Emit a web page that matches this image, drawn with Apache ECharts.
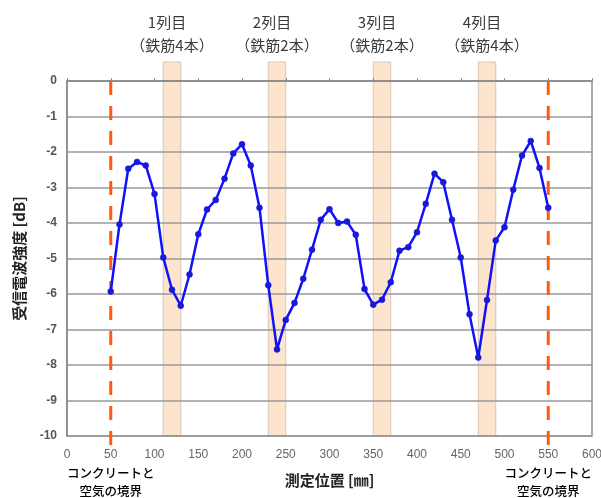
<!DOCTYPE html>
<html>
<head>
<meta charset="utf-8">
<script src="https://cdn.jsdelivr.net/npm/echarts@6/dist/echarts.min.js"></script>
<style>
  html, body { margin: 0; padding: 0; background: #fff; }
  #chart { width: 601px; height: 498px; }
</style>
</head>
<body>
<div id="chart"></div>
<script>
// Measurement positions [mm] and received signal strength [dB]
const positions = [50, 60, 70, 80, 90, 100, 110, 120, 130, 140, 150, 160, 170, 180, 190,
  200, 210, 220, 230, 240, 250, 260, 270, 280, 290, 300, 310, 320, 330, 340, 350,
  360, 370, 380, 390, 400, 410, 420, 430, 440, 450, 460, 470, 480, 490, 500, 510,
  520, 530, 540, 550];
const strength = [-5.93, -4.04, -2.47, -2.28, -2.38, -3.18, -4.97, -5.88, -6.33, -5.45,
  -4.32, -3.62, -3.35, -2.75, -2.04, -1.78, -2.38, -3.57, -5.75, -7.56, -6.73, -6.25,
  -5.57, -4.75, -3.91, -3.61, -4.00, -3.96, -4.33, -5.86, -6.30, -6.16, -5.67, -4.78,
  -4.68, -4.26, -3.46, -2.61, -2.85, -3.91, -4.97, -6.57, -7.79, -6.17, -4.49, -4.12,
  -3.06, -2.10, -1.69, -2.45, -3.57];

// Rebar rows: start / end position [mm] and their captions
const rebarStart = [110, 230, 350, 470];
const rebarEnd = [130, 250, 370, 490];
const rebarRow = ['1列目', '2列目', '3列目', '4列目'];
const rebarCount = ['（鉄筋4本）', '（鉄筋2本）', '（鉄筋2本）', '（鉄筋4本）'];

// Concrete / air boundaries [mm]
const boundaries = [50, 550];
const boundaryText = ['コンクリートと', '空気の境界'];

const xTicks = { min: 0, max: 600, interval: 50 };
const yTicks = { min: -10, max: 0, interval: 1 };

const cjk = '"Noto Sans CJK JP", "Noto Sans", sans-serif';
const latin = '"Liberation Sans", Arial, sans-serif';
const chart = echarts.init(document.getElementById('chart'), null, { renderer: 'canvas' });

const bandData = rebarStart.map((s, i) => [s, rebarEnd[i], yTicks.max]);
const lineData = positions.map((p, i) => [p, strength[i]]);
const boundaryData = boundaries.map(b => [b, yTicks.max]);

chart.setOption({
  animation: false,
  grid: {
    left: 67, right: 9, top: 81, bottom: 62,
    containLabel: false,
    outerBoundsMode: 'none',
    show: true, borderColor: '#8f8f8f', borderWidth: 1.5
  },
  xAxis: {
    type: 'value',
    min: xTicks.min, max: xTicks.max, interval: xTicks.interval,
    name: '測定位置 [㎜]',
    nameLocation: 'middle',
    nameGap: 37,
    nameTextStyle: { fontFamily: cjk, fontSize: 15, fontWeight: 'bold', color: '#222' },
    axisLine: { show: true, lineStyle: { color: '#8a8a8a', width: 1.5 } },
    axisTick: { show: true, inside: true, length: 3, lineStyle: { color: '#8a8a8a' } },
    splitLine: { show: false },
    axisLabel: {
      margin: 13,
      showMinLabel: true,
      showMaxLabel: true,
      color: '#666',
      fontFamily: latin,
      fontSize: 12
    }
  },
  yAxis: {
    type: 'value',
    min: yTicks.min, max: yTicks.max, interval: yTicks.interval,
    name: '受信電波強度 [dB]',
    nameLocation: 'middle',
    nameGap: 40,
    nameRotate: 90,
    nameTextStyle: { fontFamily: cjk, fontSize: 15, fontWeight: 'bold', color: '#222' },
    axisLine: { show: true, lineStyle: { color: '#8a8a8a', width: 1.5 } },
    axisTick: { show: false },
    splitLine: { show: true, lineStyle: { color: '#999999', width: 1.6 } },
    axisLabel: {
      margin: 10,
      showMinLabel: true,
      showMaxLabel: true,
      color: '#555',
      fontWeight: 'bold',
      fontFamily: latin,
      fontSize: 12
    }
  },
  series: [
    {
      // rebar row bands with their captions
      type: 'custom',
      z: -1,
      clip: false,
      silent: true,
      encode: { x: [0, 1], y: 2 },
      data: bandData,
      renderItem: (params, api) => {
        const i = params.dataIndex;
        const tl = api.coord([api.value(0), yTicks.max]);
        const br = api.coord([api.value(1), yTicks.min]);
        const top = tl[1] - 19;
        const cx = (tl[0] + br[0]) / 2;
        return {
          type: 'group',
          children: [
            {
              type: 'rect',
              shape: { x: tl[0], y: top, width: br[0] - tl[0], height: br[1] - top },
              style: { fill: '#fde4cd', stroke: '#d6c5b8', lineWidth: 1 }
            },
            {
              type: 'text',
              style: {
                x: cx - 5, y: top - 40, text: rebarRow[i],
                align: 'center', verticalAlign: 'middle',
                font: '15px ' + cjk, fill: '#3a3a3a'
              }
            },
            {
              type: 'text',
              style: {
                x: cx, y: top - 17, text: rebarCount[i],
                align: 'center', verticalAlign: 'middle',
                font: '15px ' + cjk, fill: '#3a3a3a'
              }
            }
          ]
        };
      }
    },
    {
      // concrete / air boundary markers with captions under the axis
      type: 'custom',
      z: 1,
      clip: false,
      silent: true,
      encode: { x: 0, y: 1 },
      data: boundaryData,
      renderItem: (params, api) => {
        const t = api.coord([api.value(0), yTicks.max]);
        const b = api.coord([api.value(0), yTicks.min]);
        return {
          type: 'group',
          children: [
            {
              type: 'line',
              shape: { x1: t[0], y1: t[1], x2: b[0], y2: b[1] + 19 },
              style: { stroke: '#ff5a0f', lineWidth: 3, lineDash: [14, 11] }
            },
            {
              type: 'text',
              style: {
                x: b[0], y: b[1] + 37, text: boundaryText[0],
                align: 'center', verticalAlign: 'middle',
                font: '500 12.5px ' + cjk, fill: '#000'
              }
            },
            {
              type: 'text',
              style: {
                x: b[0], y: b[1] + 55, text: boundaryText[1],
                align: 'center', verticalAlign: 'middle',
                font: '500 12.5px ' + cjk, fill: '#000'
              }
            }
          ]
        };
      }
    },
    {
      type: 'line',
      z: 3,
      data: lineData,
      symbol: 'circle',
      symbolSize: 6,
      lineStyle: { color: '#1010ff', width: 2.5 },
      itemStyle: { color: '#1a1ad0', borderColor: '#1010ff', borderWidth: 0.5 }
    }
  ]
});
</script>
</body>
</html>
